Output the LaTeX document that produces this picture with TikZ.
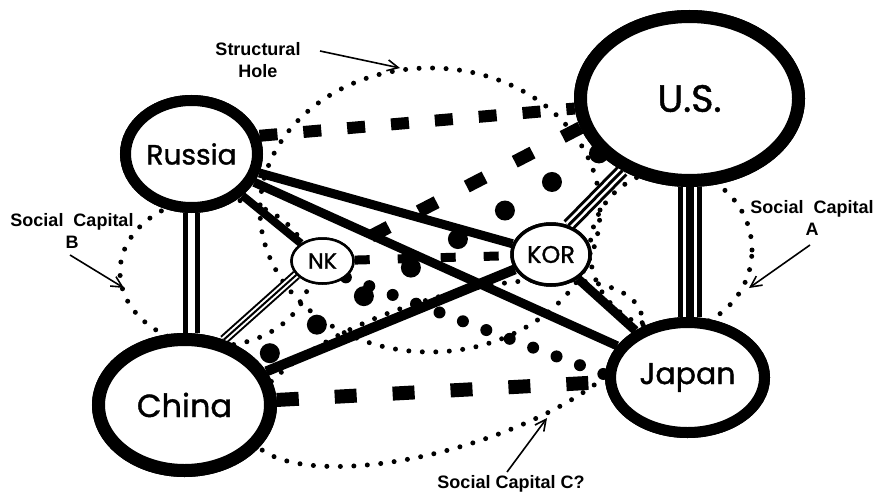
\documentclass[tikz,border=0pt]{standalone}
\usepackage{fontspec}
\setmainfont{Liberation Sans}
\newfontfamily\nodefont[FakeBold=1.2]{Poppins}
\usetikzlibrary{arrows.meta,shapes.geometric,calc}
\begin{document}
\begin{tikzpicture}[x=1pt,y=-1pt,
  country/.style={ellipse, draw, fill=white, inner sep=0pt},
  smalldots/.style={line width=5pt, dash pattern=on 0pt off 13.5pt, line cap=round},
  meddots/.style={line width=12pt, dash pattern=on 0pt off 25pt, line cap=round},
  bigdots/.style={line width=20pt, dash pattern=on 0pt off 55pt, line cap=round},
  heavydash/.style={line width=13pt, dash pattern=on 20pt off 34pt},
  meddash/.style={line width=9pt, dash pattern=on 15pt off 28pt},
  solidlink/.style={line width=9pt},
  note/.style={font=\bfseries\fontsize{18}{22}\selectfont, align=center, inner sep=0pt},
  pointer/.style={line width=1.6pt, -{Straight Barb[length=11pt,width=11pt]}},
]
\fill[white] (0,0) rectangle (877,495);
\useasboundingbox (0,0) rectangle (877,495);

% dotted groupings
\draw[smalldots] (430,210) ellipse [x radius=170pt, y radius=142pt];
\draw[smalldots] (215,272) ellipse [x radius=95pt, y radius=74pt];
\draw[smalldots] (671,250) ellipse [x radius=81pt, y radius=80pt];
\draw[smalldots, rotate around={17:(445,373)}] (445,373) ellipse [x radius=205pt, y radius=75pt];

% nodes (placed first so edges can refer to them; redrawn on top below)
\path (191.5,154) node[country, line width=11pt, minimum width=132pt, minimum height=107pt] (russia) {};
\path (689.5,98.5) node[country, line width=13pt, minimum width=218pt, minimum height=164pt] (us) {};
\path (184.5,405) node[country, line width=13pt, minimum width=172pt, minimum height=131pt] (china) {};
\path (687.5,377.5) node[country, line width=11pt, minimum width=154pt, minimum height=110pt] (japan) {};
\path (322.5,261) node[country, line width=2.5pt, minimum width=62pt, minimum height=45pt] (nk) {};
\path (551,254.5) node[country, line width=3.5pt, minimum width=78pt, minimum height=61pt] (kor) {};

% links
\draw[heavydash, line width=12pt, dash pattern=on 18pt off 26pt] (russia.15) -- (us.185);
\draw[heavydash] (us.195) -- (nk.27);
\draw[heavydash, line width=14pt, dash pattern=on 22pt off 36pt] (china) -- (japan);
\draw[meddash] (nk) -- (kor);
\draw[bigdots] (us) -- (china);
\draw[meddots] (nk.-35) -- (japan.178);
\draw[solidlink] (russia) -- (kor);
\draw[solidlink] (russia) -- (japan);
\draw[solidlink, line width=8pt] (russia) -- (nk);
\draw[solidlink, line width=10pt] (china) -- (kor);
\draw[solidlink] (kor) -- (japan);
\draw[line width=5pt, double distance=7pt] (russia.south) -- (russia.south |- china.north);
\draw[line width=5pt, double distance=14pt] (us.south) -- (us.south |- japan.north);
\draw[line width=8pt] (us.south) -- (us.south |- japan.north);
\draw[line width=3pt, double distance=8pt] (us.227) -- (kor.59);
\draw[line width=3pt] (us.227) -- (kor.59);
\draw[line width=2pt, double distance=6pt] (china.59) -- (nk.208);
\draw[line width=2pt] (china.59) -- (nk.208);

% nodes on top
\node[country, line width=11pt, minimum width=132pt, minimum height=107pt, font=\nodefont\fontsize{28}{30}\selectfont] at (russia.center) {Russia};
\node[country, line width=13pt, minimum width=218pt, minimum height=164pt, font=\nodefont\fontsize{38}{40}\selectfont] at (us.center) {U.S.};
\node[country, line width=13pt, minimum width=172pt, minimum height=131pt, font=\nodefont\fontsize{32}{34}\selectfont] at (china.center) {China};
\node[country, line width=11pt, minimum width=154pt, minimum height=110pt, font=\nodefont\fontsize{30}{32}\selectfont] at (japan.center) {Japan};
\node[country, line width=2.5pt, minimum width=62pt, minimum height=45pt, font=\nodefont\fontsize{22}{24}\selectfont] at (nk.center) {NK};
\node[country, line width=3.5pt, minimum width=78pt, minimum height=61pt, font=\nodefont\fontsize{24}{26}\selectfont] at (kor.center) {KOR};

% annotations
\node[note] (shtext) at (258,60.5) {Structural\\Hole};
\node[note] (btext) at (72,231) {Social\ \ Capital\\B};
\node[note] (atext) at (812,218) {Social\ \ Capital\\A};
\node[note] (ctext) at (511,484) {Social Capital C?};
\coordinate (shfrom) at (320,51);
\coordinate (shtip) at (400,68);
\coordinate (bfrom) at (70,255);
\coordinate (btip) at (124,288);
\coordinate (afrom) at (810,245);
\coordinate (atip) at (749,288);
\coordinate (cfrom) at (507,472);
\coordinate (ctip) at (547,418);
\draw[pointer] (shfrom) -- (shtip);
\draw[pointer] (bfrom) -- (btip);
\draw[pointer] (afrom) -- (atip);
\draw[pointer] (cfrom) -- (ctip);
\end{tikzpicture}
\end{document}
